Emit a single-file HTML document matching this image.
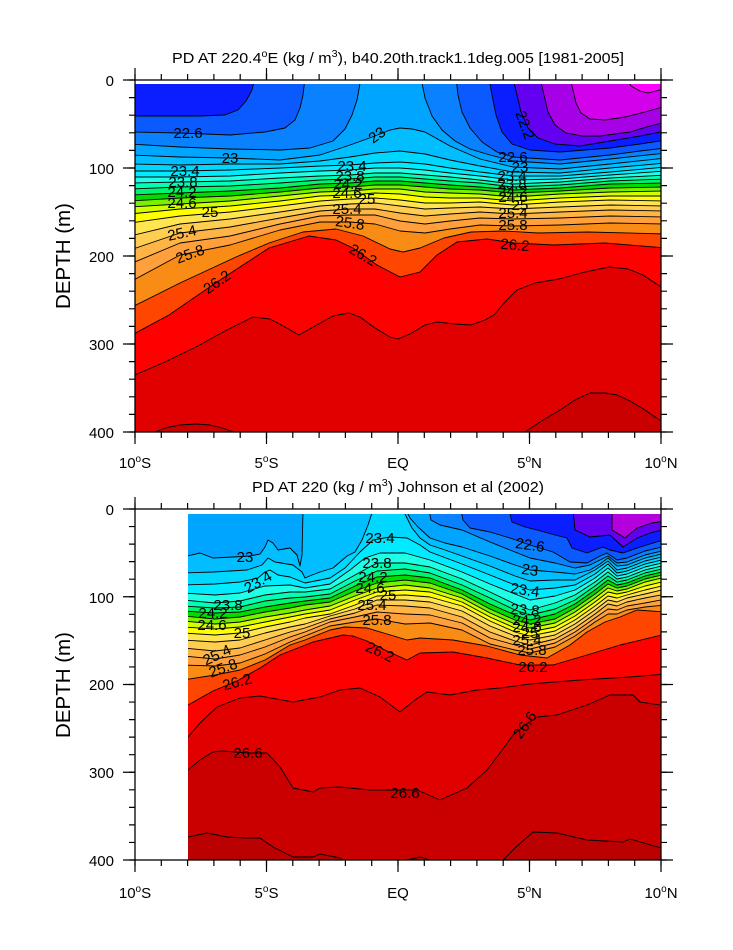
<!DOCTYPE html>
<html><head><meta charset="utf-8"><style>html,body{margin:0;padding:0;background:#fff}</style></head>
<body>
<svg xmlns="http://www.w3.org/2000/svg" width="733" height="945" viewBox="0 0 733 945" font-family="'Liberation Sans', Arial, sans-serif">
<defs>
<clipPath id="c1"><rect x="135" y="84" width="526" height="348"/></clipPath>
<clipPath id="c2"><rect x="188" y="514" width="473" height="346"/></clipPath>
</defs>
<rect width="733" height="945" fill="#fff"/>

<!-- TOP PLOT -->
<g clip-path="url(#c1)" stroke="#000" stroke-width="0.9" stroke-linejoin="round">
<rect x="135" y="84" width="526" height="348" fill="#ff00ff" stroke="none"/>
<path fill="#d200eb" d="M130,78L627,78L631,86L640,91L648,93L656,91L666,88V440H130Z"/>
<path fill="#a500e6" d="M130,78L570,78L573,90L576,103L581,113L590,119L605,120L625,117L645,112L666,106V440H130Z"/>
<path fill="#6400f0" d="M130,78L540,78L544,95L548,112L555,125L566,133L582,136L600,136L630,132L650,126L666,122V440H130Z"/>
<path fill="#0a1eff" d="M130,78L513,78L517,95L521,112L528,128L538,138L555,144L580,146L610,141L640,136L666,131V440H130Z"/>
<path fill="#0a5aff" d="M130,116L200,116L225,115L238,110L246,101L252,90L255,78L489,78L492,95L496,115L502,132L512,144L530,150L560,152L610,148L640,144L666,140V440H130Z"/>
<path fill="#0a82ff" d="M130,132L180,133L230,135L265,132L285,128L295,120L300,108L303,95L305,78L456,78L458,95L462,112L470,128L482,142L497,152L513,157L560,160L610,155L640,151L666,148V440H130Z"/>
<path fill="#00a5ff" d="M130,144L180,147L230,149L280,150L310,148L333,141L345,129L352,115L357,100L361,78L421,78L425,98L432,116L442,130L455,141L470,149L490,155L513,161L560,164L610,159L666,153V440H130Z"/>
<path fill="#00beff" d="M130,155L180,157L230,158L280,160L320,155L350,145L375,136L390,130L400,128L412,129L425,132L450,146L480,159L513,167L560,169L610,164L666,158V440H130Z"/>
<path fill="#00d7ff" d="M130,164L180,165L230,164L280,164L320,161L350,157L375,153L400,151L425,154L450,160L480,166L513,172L560,173L610,168L666,163V440H130Z"/>
<path fill="#00ebff" d="M130,171L180,171L230,170L280,168L320,166L350,165L375,163L400,162L425,164L450,168L480,172L513,176L560,176L610,172L666,167V440H130Z"/>
<path fill="#1effe6" d="M130,177L180,177L230,176L280,173L320,171L350,170L375,168L400,168L425,170L450,173L480,176L513,180L560,179L610,175L666,171V440H130Z"/>
<path fill="#00ffb4" d="M130,183L180,182L230,181L280,178L320,176L350,175L375,173L400,173L425,175L450,177L480,180L513,184L560,182L610,178L666,175V440H130Z"/>
<path fill="#00f56e" d="M130,189L180,187L230,186L280,183L320,180L350,179L375,177L400,177L425,179L450,181L480,183L513,187L560,185L610,181L666,179V440H130Z"/>
<path fill="#00dc00" d="M130,195L180,193L230,191L280,188L320,184L350,183L375,181L400,181L425,183L450,185L480,187L513,190L560,188L610,184L666,183V440H130Z"/>
<path fill="#78f000" d="M130,201L180,198L230,196L280,192L320,188L350,187L375,185L400,185L425,187L450,189L480,190L513,193L560,191L610,188L666,187V440H130Z"/>
<path fill="#d2ff00" d="M130,207L180,204L230,201L280,196L320,192L350,191L375,189L400,189L425,192L450,193L480,194L513,197L560,194L610,192L666,191V440H130Z"/>
<path fill="#ffff00" d="M130,214L180,209L230,206L280,201L320,196L350,195L375,193L400,194L425,197L450,198L480,198L513,201L560,198L610,196L666,196V440H130Z"/>
<path fill="#ffe650" d="M130,223L180,216L230,212L280,206L320,201L350,199L375,198L400,200L425,203L450,203L480,202L513,205L560,202L610,200L666,201V440H130Z"/>
<path fill="#ffcd50" d="M130,236L180,224L230,219L280,212L320,206L350,204L375,203L400,206L425,209L450,208L480,207L513,209L560,207L610,205L666,206V440H130Z"/>
<path fill="#ffb446" d="M130,250L180,233L230,227L280,218L320,211L350,209L375,209L400,213L425,216L450,214L480,212L513,214L560,212L610,210L666,211V440H130Z"/>
<path fill="#ffa03c" d="M130,264L180,243L230,236L280,224L320,216L350,215L375,215L400,221L425,224L450,221L480,218L513,219L560,218L610,216L666,217V440H130Z"/>
<path fill="#f88c14" d="M130,282L180,255L230,245L280,230L320,222L350,222L375,224L400,231L425,233L450,229L480,225L513,226L560,225L610,223L666,224V440H130Z"/>
<path fill="#ff4600" d="M130,308L180,283L236,257L269,243L303,232L336,229L363,236L390,249L403,252L420,248L444,238L471,232L504,231L538,233L588,232L666,234V440H130Z"/>
<path fill="#ff0000" d="M130,336L169,315L217,282L269,248L309,236L336,240L353,248L377,265L400,277L420,272L437,255L457,242L487,239L514,243L554,245L605,243L666,248V440H130Z"/>
<path fill="#e10000" d="M130,377L165,362L196,347L225,331L253,317L270,319L285,327L299,335L315,326L333,316L349,313L360,317L375,328L390,337L398,339L410,334L425,325L437,322L455,324L471,325L485,320L494,315L505,302L517,290L535,283L559,279L585,272L609,267L628,269L643,275L655,283L666,290V440H130Z"/>
<path fill="#ca0000" d="M150,440L155,432L165,428L180,425L196,424L210,425L222,428L234,432L238,440Z M520,440L525,432L540,422L560,410L575,400L590,393L605,393L617,395L630,401L645,410L661,421L666,424V440Z"/>
</g>

<g font-size="15" text-anchor="middle" fill="#000">
<text x="188" y="138">22.6</text>
<text x="230" y="163">23</text>
<text x="185" y="176">23.4</text>
<text x="183" y="187">23.8</text>
<text x="182" y="197">24.2</text>
<text x="182" y="208">24.6</text>
<text x="210" y="217">25</text>
<text x="182" y="238" transform="rotate(-12 182 233)">25.4</text>
<text x="190" y="259" transform="rotate(-20 190 254)">25.8</text>
<text x="217" y="287" transform="rotate(-35 217 282)">26.2</text>
<text x="377" y="140" transform="rotate(-35 377 135)">23</text>
<text x="352" y="171">23.4</text>
<text x="350" y="181">23.8</text>
<text x="348" y="189">24.2</text>
<text x="347" y="198">24.6</text>
<text x="367" y="204">25</text>
<text x="347" y="214">25.4</text>
<text x="350" y="228" transform="rotate(8 350 223)">25.8</text>
<text x="363" y="260" transform="rotate(30 363 255)">26.2</text>
<text x="525" y="130" transform="rotate(70 525 125)">22.2</text>
<text x="513" y="162">22.6</text>
<text x="520" y="172">23</text>
<text x="512" y="181">23.4</text>
<text x="512" y="189">23.8</text>
<text x="513" y="196">24.2</text>
<text x="513" y="202">24.6</text>
<text x="520" y="210">25</text>
<text x="513" y="218">25.4</text>
<text x="513" y="230">25.8</text>
<text x="515" y="250" transform="rotate(5 515 245)">26.2</text>
</g>

<!-- BOTTOM PLOT -->
<g clip-path="url(#c2)" stroke="#000" stroke-width="0.9" stroke-linejoin="round">
<rect x="188" y="514" width="473" height="346" fill="#b400dc" stroke="none"/>
<path fill="#6400f0" d="M183,510L612,510L612,530L625,538L637,528L652,523L666,521V866H183Z"/>
<path fill="#0a1eff" d="M183,510L573,510L575,530L590,537L610,535L623,547L637,538L650,533L666,529V866H183Z"/>
<path fill="#0a5aff" d="M183,510L509,510L512,522L525,527L537,530L555,535L567,538L572,548L587,553L603,547L610,550L623,553L637,548L666,539V866H183Z"/>
<path fill="#0a82ff" d="M183,510L461,510L463,520L470,528L490,532L510,538L530,545L553,552L570,562L587,563L600,556L607,553L617,560L627,558L645,551L666,546V866H183Z"/>
<path fill="#00a5ff" d="M183,510L429,510L431,520L440,525L462,530L490,542L515,552L530,558L555,563L575,568L590,565L600,560L608,556L617,563L627,562L645,555L666,550V866H183Z"/>
<path fill="#00beff" d="M183,557L200,553L213,558L233,557L250,556L260,554L265,547L268,540L273,543L278,550L290,548L297,555L300,566L302,555L303,510L406,510L410,518L418,527L430,538L445,543L462,547L490,556L515,565L530,570L555,572L575,574L590,570L600,564L608,558L617,566L627,565L645,558L666,553V866H183Z"/>
<path fill="#00d7ff" d="M183,573L213,572L247,570L262,565L268,558L275,562L293,565L302,572L305,578L312,575L320,572L333,568L340,562L347,556L355,552L362,540L368,525L373,510L400,510L405,514L412,528L420,538L430,545L445,550L462,556L490,566L515,576L530,581L555,580L575,580L595,570L608,561L617,570L627,568L645,561L666,556V866H183Z"/>
<path fill="#00ebff" d="M183,585L215,584L240,582L258,578L265,572L270,570L278,575L290,577L305,583L330,578L345,568L360,552L373,540L390,537L407,538L420,545L430,552L462,564L490,575L515,585L530,590L555,588L575,585L595,574L608,564L617,573L627,571L645,564L666,559V866H183Z"/>
<path fill="#1effe6" d="M183,593L215,595L240,593L265,586L290,585L305,588L330,584L350,570L365,558L380,553L405,553L430,560L462,572L490,584L515,594L530,600L555,596L575,590L595,578L608,568L617,576L627,574L645,567L666,562V866H183Z"/>
<path fill="#00ffb4" d="M183,600L215,603L240,601L265,595L290,592L305,592L330,589L355,575L377,563L405,563L430,567L462,579L490,592L515,604L530,610L555,603L575,595L595,582L608,572L617,579L627,577L645,570L666,565V866H183Z"/>
<path fill="#00f56e" d="M183,606L215,608L240,607L265,601L290,598L305,597L330,594L355,581L377,571L405,569L430,573L462,585L490,598L515,610L530,615L555,609L575,600L595,586L608,576L617,582L627,580L645,573L666,568V866H183Z"/>
<path fill="#00dc00" d="M183,611L215,613L240,612L265,607L290,603L305,601L330,598L355,586L377,577L405,575L430,578L462,590L490,604L515,615L530,620L555,614L575,604L595,590L608,580L617,585L627,583L645,576L666,571V866H183Z"/>
<path fill="#78f000" d="M183,616L215,619L240,617L265,612L290,608L305,605L330,602L355,591L377,583L405,580L430,583L462,594L490,609L515,620L530,624L555,619L575,608L595,594L608,584L617,588L627,586L645,579L666,574V866H183Z"/>
<path fill="#d2ff00" d="M183,621L215,624L240,622L265,617L290,613L305,610L330,606L355,596L377,588L405,585L430,588L462,598L490,613L515,624L530,628L555,623L575,612L595,598L608,588L617,591L627,589L645,582L666,577V866H183Z"/>
<path fill="#ffff00" d="M183,627L215,629L240,627L265,622L290,617L305,614L330,610L355,600L377,592L405,590L430,592L462,602L490,617L515,628L530,632L555,627L575,616L595,602L608,592L617,594L627,592L645,586L666,581V866H183Z"/>
<path fill="#ffe650" d="M183,633L215,635L240,633L265,627L290,622L305,618L330,614L355,605L377,596L405,595L430,597L462,606L490,621L515,632L530,636L555,631L575,620L595,606L608,596L617,598L627,595L645,590L666,585V866H183Z"/>
<path fill="#ffcd50" d="M183,640L215,642L240,640L265,633L290,627L305,624L330,616L355,609L377,600L405,600L430,602L462,611L490,626L515,636L530,640L555,635L575,624L595,610L608,600L617,602L627,598L645,594L666,589V866H183Z"/>
<path fill="#ffb446" d="M183,648L215,651L240,648L265,640L290,632L305,628L330,619L355,613L377,605L405,606L430,608L462,617L490,632L515,641L530,645L555,639L575,628L595,614L608,604L617,606L627,602L645,598L666,594V866H183Z"/>
<path fill="#ffa03c" d="M183,656L215,659L240,655L265,647L290,637L305,632L330,622L355,617L377,612L405,614L430,615L462,623L490,638L515,645L530,649L555,643L575,632L595,618L608,609L617,610L627,606L645,603L666,599V866H183Z"/>
<path fill="#f88c14" d="M183,665L215,666L240,663L265,654L290,642L305,636L330,626L355,622L377,619L405,624L430,623L462,630L490,644L515,650L530,653L555,647L575,636L595,622L608,614L617,614L627,610L645,607L666,605V866H183Z"/>
<path fill="#ff4600" d="M183,680L215,675L240,670L265,660L290,645L305,640L330,630L345,627L367,628L387,634L407,640L420,638L453,640L487,646L520,655L547,658L570,645L587,632L605,622L620,617L637,610L666,612V866H183Z"/>
<path fill="#ff0000" d="M183,707L188,705L213,691L237,681L260,668L280,655L313,642L343,635L353,636L367,641L387,651L407,660L420,653L453,652L487,658L520,665L553,665L587,655L620,645L666,634V866H183Z"/>
<path fill="#e10000" d="M183,740L188,737L200,723L217,707L240,698L260,696L293,702L320,697L340,690L360,688L380,697L400,712L415,700L427,692L450,695L477,690L500,688L530,684L580,680L630,677L666,674V866H183Z"/>
<path fill="#ca0000" d="M183,773L188,770L200,760L213,752L222,751L248,753L267,753L280,767L293,788L313,792L320,788L340,787L370,790L400,790L417,790L440,800L467,788L487,770L500,753L513,735L525,725L537,717L557,715L587,705L610,695L633,695L640,702L666,706V866H183Z"/>
<path fill="#ba0000" d="M183,838L188,837L207,833L227,837L247,838L260,838L273,847L293,857L313,857L320,854L340,858L350,866L400,866L407,860L420,857L430,860L435,866L495,866L503,860L515,848L533,832L557,833L587,840L623,842L630,839L661,848L666,850V870H183Z"/>
</g>

<g font-size="15" text-anchor="middle" fill="#000">
<text x="245" y="562">23</text>
<text x="258" y="587" transform="rotate(-30 258 582)">23.4</text>
<text x="228" y="610">23.8</text>
<text x="213" y="618">24.2</text>
<text x="212" y="630">24.6</text>
<text x="242" y="638">25</text>
<text x="217" y="660" transform="rotate(-25 217 655)">25.4</text>
<text x="223" y="673" transform="rotate(-20 223 668)">25.8</text>
<text x="237" y="687" transform="rotate(-15 237 682)">26.2</text>
<text x="380" y="543">23.4</text>
<text x="377" y="568">23.8</text>
<text x="373" y="582">24.2</text>
<text x="370" y="593">24.6</text>
<text x="388" y="600">25</text>
<text x="372" y="610">25.4</text>
<text x="377" y="625">25.8</text>
<text x="380" y="657" transform="rotate(25 380 652)">26.2</text>
<text x="530" y="550" transform="rotate(8 530 545)">22.6</text>
<text x="530" y="575" transform="rotate(8 530 570)">23</text>
<text x="525" y="595" transform="rotate(8 525 590)">23.4</text>
<text x="525" y="615" transform="rotate(5 525 610)">23.8</text>
<text x="527" y="625">24.2</text>
<text x="527" y="632">24.6</text>
<text x="530" y="638">25</text>
<text x="527" y="645">25.4</text>
<text x="532" y="655">25.8</text>
<text x="533" y="672">26.2</text>
<text x="248" y="758">26.6</text>
<text x="405" y="798">26.6</text>
<text x="525" y="730" transform="rotate(-55 525 725)">26.6</text>
</g>

<!-- FRAMES -->
<rect x="135" y="80" width="526" height="352" fill="none" stroke="#000" stroke-width="1.3"/>
<rect x="135" y="509" width="526" height="351" fill="none" stroke="#000" stroke-width="1.3"/>

<!-- TICKS -->
<g stroke="#000" fill="none">
<line x1="134.4" y1="435" x2="662" y2="435" stroke-width="6" stroke-dasharray="1.2 25.1"/>
<line x1="134.4" y1="438" x2="662" y2="438" stroke-width="12" stroke-dasharray="1.2 130.3"/>
<line x1="134.4" y1="77" x2="662" y2="77" stroke-width="6" stroke-dasharray="1.2 25.1"/>
<line x1="134.4" y1="74" x2="662" y2="74" stroke-width="12" stroke-dasharray="1.2 130.3"/>
<line x1="132" y1="79.4" x2="132" y2="433" stroke-width="6" stroke-dasharray="1.2 16.4"/>
<line x1="129" y1="79.4" x2="129" y2="433" stroke-width="12" stroke-dasharray="1.2 86.8"/>
<line x1="664" y1="79.4" x2="664" y2="433" stroke-width="6" stroke-dasharray="1.2 16.4"/>
<line x1="667" y1="79.4" x2="667" y2="433" stroke-width="12" stroke-dasharray="1.2 86.8"/>
<line x1="134.4" y1="863" x2="662" y2="863" stroke-width="6" stroke-dasharray="1.2 25.1"/>
<line x1="134.4" y1="866" x2="662" y2="866" stroke-width="12" stroke-dasharray="1.2 130.3"/>
<line x1="134.4" y1="506" x2="662" y2="506" stroke-width="6" stroke-dasharray="1.2 25.1"/>
<line x1="134.4" y1="503" x2="662" y2="503" stroke-width="12" stroke-dasharray="1.2 130.3"/>
<line x1="132" y1="508.4" x2="132" y2="861" stroke-width="6" stroke-dasharray="1.2 16.35"/>
<line x1="129" y1="508.4" x2="129" y2="861" stroke-width="12" stroke-dasharray="1.2 86.55"/>
<line x1="664" y1="508.4" x2="664" y2="861" stroke-width="6" stroke-dasharray="1.2 16.35"/>
<line x1="667" y1="508.4" x2="667" y2="861" stroke-width="12" stroke-dasharray="1.2 86.55"/>
</g>

<!-- TICK LABELS -->
<g font-size="15" fill="#000" text-anchor="end">
<text x="114" y="86">0</text>
<text x="114" y="174">100</text>
<text x="114" y="262">200</text>
<text x="114" y="350">300</text>
<text x="114" y="438">400</text>
<text x="114" y="515">0</text>
<text x="114" y="603">100</text>
<text x="114" y="690">200</text>
<text x="114" y="778">300</text>
<text x="114" y="866">400</text>
</g>
<g font-size="15" fill="#000" text-anchor="middle">
<text x="135" y="468">10<tspan font-size="10" dy="-6">o</tspan><tspan dy="6">S</tspan></text>
<text x="266.5" y="468">5<tspan font-size="10" dy="-6">o</tspan><tspan dy="6">S</tspan></text>
<text x="398" y="468">EQ</text>
<text x="529.5" y="468">5<tspan font-size="10" dy="-6">o</tspan><tspan dy="6">N</tspan></text>
<text x="661" y="468">10<tspan font-size="10" dy="-6">o</tspan><tspan dy="6">N</tspan></text>
<text x="135" y="898">10<tspan font-size="10" dy="-6">o</tspan><tspan dy="6">S</tspan></text>
<text x="266.5" y="898">5<tspan font-size="10" dy="-6">o</tspan><tspan dy="6">S</tspan></text>
<text x="398" y="898">EQ</text>
<text x="529.5" y="898">5<tspan font-size="10" dy="-6">o</tspan><tspan dy="6">N</tspan></text>
<text x="661" y="898">10<tspan font-size="10" dy="-6">o</tspan><tspan dy="6">N</tspan></text>
</g>

<!-- AXIS TITLES -->
<g font-size="20.5" fill="#000" text-anchor="middle">
<text x="70" y="256" transform="rotate(-90 70 256)">DEPTH (m)</text>
<text x="70" y="685" transform="rotate(-90 70 685)">DEPTH (m)</text>
</g>

<!-- MAIN TITLES -->
<text x="172" y="63" font-size="15" fill="#000" textLength="452" lengthAdjust="spacingAndGlyphs">PD AT 220.4<tspan font-size="10" dy="-6">o</tspan><tspan dy="6">E (kg / m</tspan><tspan font-size="10" dy="-6">3</tspan><tspan dy="6">), b40.20th.track1.1deg.005 [1981-2005]</tspan></text>
<text x="252" y="492" font-size="15" fill="#000" textLength="292" lengthAdjust="spacingAndGlyphs">PD AT 220 (kg / m<tspan font-size="10" dy="-6">3</tspan><tspan dy="6">) Johnson et al (2002)</tspan></text>
</svg>
</body></html>
